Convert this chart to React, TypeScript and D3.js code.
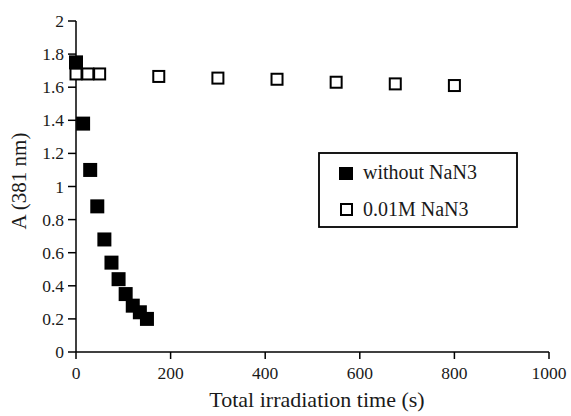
import React from 'react';
import * as d3 from 'd3';

// without NaN3 (filled squares)
const timeFilled = [0, 15, 30, 45, 60, 75, 90, 105, 120, 135, 150];
const absFilled = [1.75, 1.38, 1.1, 0.88, 0.68, 0.54, 0.44, 0.35, 0.28, 0.24, 0.2];

// 0.01M NaN3 (open squares)
const timeOpen = [0, 25, 50, 175, 300, 425, 550, 675, 800];
const absOpen = [1.68, 1.68, 1.68, 1.665, 1.655, 1.648, 1.63, 1.62, 1.61];

const xTicks = [0, 200, 400, 600, 800, 1000];
const yTicks = [0, 0.2, 0.4, 0.6, 0.8, 1, 1.2, 1.4, 1.6, 1.8, 2];
const legendLabels = ['without NaN3', '0.01M NaN3'];

const W = 571;
const H = 416;
const margin = { left: 76, right: 22, top: 21, bottom: 64 };

const App = () => {
  const x = d3.scaleLinear().domain([0, 1000]).range([margin.left, W - margin.right]);
  const y = d3.scaleLinear().domain([0, 2]).range([H - margin.bottom, margin.top]);
  const font = '"Liberation Serif", "Times New Roman", serif';
  const sq = 14;
  const open = 11;
  const ink = '#1a1a1a';

  return (
    <svg width={W} height={H} style={{ position: 'absolute', left: 0, top: 0, background: '#fff' }} fontFamily={font}>
      {/* axes */}
      <line x1={x(0)} x2={x(1000)} y1={y(0)} y2={y(0)} stroke="#000" strokeWidth={1.5} />
      <line x1={x(0)} x2={x(0)} y1={y(0)} y2={y(2)} stroke="#000" strokeWidth={1.5} />
      {xTicks.map((t) => (
        <g key={'x' + t}>
          <line x1={x(t)} x2={x(t)} y1={y(0)} y2={y(0) + 7} stroke="#000" strokeWidth={1.5} />
          <text x={x(t)} y={y(0) + 27} textAnchor="middle" fontSize={17.5} fill={ink}>{t}</text>
        </g>
      ))}
      {yTicks.map((t) => (
        <g key={'y' + t}>
          <line x1={x(0) - 8} x2={x(0)} y1={y(t)} y2={y(t)} stroke="#000" strokeWidth={1.5} />
          <text x={x(0) - 12} y={y(t) + 6} textAnchor="end" fontSize={17.5} fill={ink}>{d3.format('~g')(t)}</text>
        </g>
      ))}
      <text x={317} y={407} textAnchor="middle" fontSize={22} fill={ink}>Total irradiation time (s)</text>
      <text transform={`translate(26,181) rotate(-90)`} textAnchor="middle" fontSize={21} fill={ink}>A (381 nm)</text>

      {/* series */}
      {timeOpen.map((t, i) => (
        <rect key={'o' + i} x={x(t) - open / 2} y={y(absOpen[i]) - open / 2} width={open} height={open}
          fill="#fff" stroke="#000" strokeWidth={2} />
      ))}
      {timeFilled.map((t, i) => (
        <rect key={'f' + i} x={x(t) - sq / 2} y={y(absFilled[i]) - sq / 2} width={sq} height={sq} fill="#000" />
      ))}

      {/* legend */}
      <rect x={319} y={153} width={198} height={74} fill="#fff" stroke="#000" strokeWidth={1.8} />
      <rect x={339} y={167} width={14} height={13} fill="#000" />
      <rect x={341} y={204} width={11} height={11} fill="#fff" stroke="#000" strokeWidth={2} />
      <text x={363} y={179} fontSize={20} fill={ink}>{legendLabels[0]}</text>
      <text x={363} y={216} fontSize={20} fill={ink}>{legendLabels[1]}</text>
    </svg>
  );
};

export default App;
